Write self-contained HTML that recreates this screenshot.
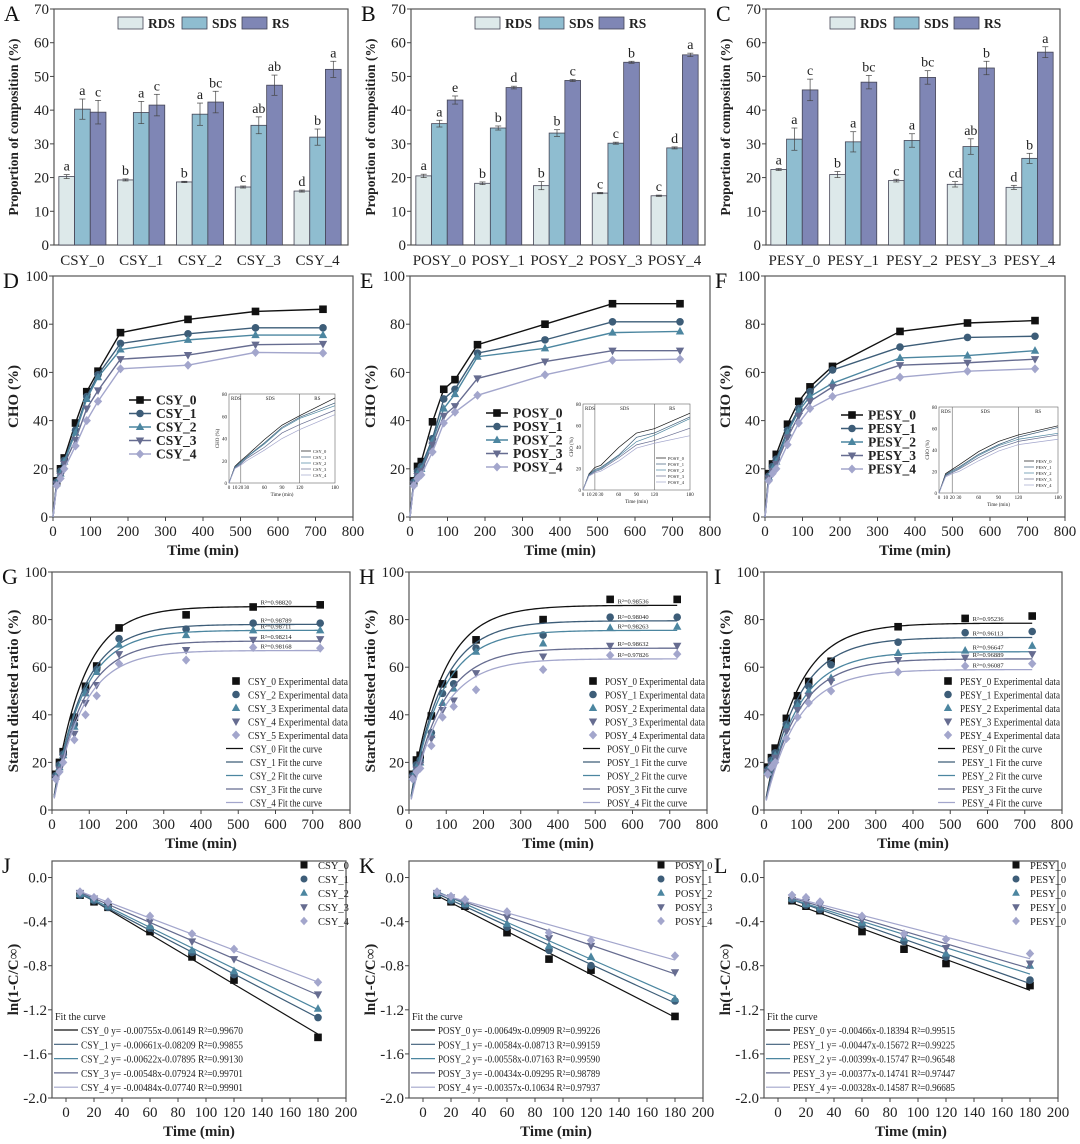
<!DOCTYPE html>
<html><head><meta charset="utf-8"><style>
html,body{margin:0;padding:0;background:#fff;}
svg{display:block;font-family:"Liberation Serif","DejaVu Serif",serif;}
svg text{font-family:"Liberation Serif","DejaVu Serif",serif;}
</style></head><body>
<svg id="fig" width="1080" height="1144" viewBox="0 0 1080 1144" xmlns="http://www.w3.org/2000/svg"></svg>
<script>
// ---------- DATA ----------
const barGroupsA = ["CSY_0","CSY_1","CSY_2","CSY_3","CSY_4"];
const barGroupsB = ["POSY_0","POSY_1","POSY_2","POSY_3","POSY_4"];
const barGroupsC = ["PESY_0","PESY_1","PESY_2","PESY_3","PESY_4"];
const rdsA = [20.3,19.3,18.7,17.2,16.0];
const sdsA = [40.3,39.3,38.8,35.5,32.0];
const rsA  = [39.4,41.5,42.4,47.4,52.1];
const rdsErrA=[0.6,0.3,0.2,0.3,0.3], sdsErrA=[3,3.3,3.3,2.5,2.4], rsErrA=[3.5,3.2,3.2,3,2.4];
const rdsLetA=["a","b","b","c","d"], sdsLetA=["a","a","a","ab","b"], rsLetA=["c","c","bc","ab","a"];
const rdsB = [20.5,18.3,17.6,15.4,14.6];
const sdsB = [36.0,34.7,33.2,30.2,28.8];
const rsB  = [43.0,46.7,48.8,54.2,56.4];
const rdsErrB=[0.5,0.4,1.2,0.2,0.2], sdsErrB=[1,0.6,1,0.3,0.3], rsErrB=[1.2,0.4,0.3,0.3,0.5];
const rdsLetB=["a","b","b","c","c"], sdsLetB=["a","b","b","c","d"], rsLetB=["e","d","c","b","a"];
const rdsC = [22.4,20.9,19.1,18.0,17.1];
const sdsC = [31.4,30.6,31.0,29.2,25.7];
const rsC  = [46.0,48.3,49.7,52.5,57.2];
const rdsErrC=[0.3,0.9,0.4,0.8,0.6], sdsErrC=[3.3,3,2,2.3,1.5], rsErrC=[3.2,2,2,2,1.6];
const rdsLetC=["a","b","c","cd","d"], sdsLetC=["a","a","a","ab","b"], rsLetC=["c","bc","bc","b","a"];
const barTicks=[0,10,20,30,40,50,60,70];

const times=[0,10,20,30,60,90,120,180,360,540,720];
const csy0=[0,15,20,24.5,39,52,60.5,76.5,82,85.3,86.2];
const csy1=[0,14.5,19,23.5,36,50,59,72,76,78.5,78.5];
const csy2=[0,14,18,23,35,49,58,69.5,73.5,75.5,75.5];
const csy3=[0,13.5,17,22,32,45,52.5,65.5,67.2,71.5,71.8];
const csy4=[0,13,16,20,29.5,40,48,61.5,63,68.3,68];
const posy0=[0,15,21,23,39.5,53,57,71.5,80,88.5,88.5];
const posy1=[0,14.5,19,21,32.5,49,53,68,73.5,81,81];
const posy2=[0,14,18,20,31.5,45,51,66.5,70,76.5,77];
const posy3=[0,13.5,17,19,30,42,46,57.5,64.5,69,69];
const posy4=[0,13,16,17.5,27,39,43.5,50.5,59,65,65.5];
const pesy0=[0,18,22,26,38.5,48,54,62.5,77,80.5,81.5];
const pesy1=[0,17,21,24,36,45,52,61,70.5,74.5,75];
const pesy2=[0,16.5,20,23,35,44,50,55.5,66,67,69];
const pesy3=[0,16,19,22,33,42,48,54,63,64,65.5];
const pesy4=[0,15,18,20,30,39,45,50,58,60.5,61.5];
const choTicks=[0,20,40,60,80,100];
const timeTicks=[0,100,200,300,400,500,600,700,800];

const cinfG=[85.5,78,75.5,71,67], kG=[0.0125,0.0125,0.0125,0.0125,0.0125];
const cinfH=[86,79.5,75.5,68,63.5], kH=[0.012,0.012,0.012,0.012,0.012];
const cinfI=[78.5,72.5,66.5,63.5,59], kI=[0.0115,0.0115,0.0115,0.0115,0.0115];
const r2G=["0.98820","0.98789","0.98711","0.98214","0.98168"];
const r2H=["0.98536","0.98040","0.98263","0.98632","0.97826"];
const r2I=["0.95236","0.96113","0.96647","0.96889","0.96087"];

const lnTimes=[10,20,30,60,90,120,180];
const j0=[-0.16,-0.22,-0.27,-0.49,-0.72,-0.93,-1.45];
const j1=[-0.16,-0.21,-0.27,-0.46,-0.68,-0.88,-1.27];
const j2=[-0.15,-0.20,-0.26,-0.44,-0.66,-0.85,-1.19];
const j3=[-0.14,-0.19,-0.24,-0.40,-0.58,-0.74,-1.06];
const j4=[-0.13,-0.18,-0.22,-0.35,-0.51,-0.65,-0.95];
const k0=[-0.16,-0.22,-0.26,-0.50,-0.74,-0.84,-1.26];
const k1=[-0.15,-0.21,-0.25,-0.45,-0.66,-0.80,-1.12];
const k2=[-0.15,-0.20,-0.24,-0.42,-0.62,-0.72,-1.10];
const k3=[-0.14,-0.18,-0.22,-0.36,-0.55,-0.62,-0.86];
const k4=[-0.13,-0.17,-0.20,-0.31,-0.50,-0.57,-0.71];
const l0=[-0.21,-0.26,-0.30,-0.49,-0.65,-0.78,-0.98];
const l1=[-0.20,-0.25,-0.29,-0.43,-0.58,-0.72,-0.93];
const l2=[-0.19,-0.24,-0.27,-0.41,-0.55,-0.69,-0.80];
const l3=[-0.18,-0.22,-0.25,-0.38,-0.53,-0.64,-0.78];
const l4=[-0.16,-0.18,-0.22,-0.35,-0.51,-0.56,-0.69];
const slopeJ=[-0.00755,-0.00661,-0.00622,-0.00548,-0.00484], interJ=[-0.06149,-0.08209,-0.07895,-0.07924,-0.07740];
const slopeK=[-0.00649,-0.00584,-0.00558,-0.00434,-0.00357], interK=[-0.09909,-0.08713,-0.07163,-0.09295,-0.10634];
const slopeL=[-0.00466,-0.00447,-0.00399,-0.00377,-0.00328], interL=[-0.18394,-0.15672,-0.15747,-0.14741,-0.14587];
const eqJ=["CSY_0 y= -0.00755x-0.06149","CSY_1 y= -0.00661x-0.08209","CSY_2 y= -0.00622x-0.07895","CSY_3 y= -0.00548x-0.07924","CSY_4 y= -0.00484x-0.07740"];
const r2J=["0.99670","0.99855","0.99130","0.99701","0.99901"];
const eqK=["POSY_0 y= -0.00649x-0.09909","POSY_1 y= -0.00584x-0.08713","POSY_2 y= -0.00558x-0.07163","POSY_3 y= -0.00434x-0.09295","POSY_4 y= -0.00357x-0.10634"];
const r2K=["0.99226","0.99159","0.99590","0.98789","0.97937"];
const eqL=["PESY_0 y= -0.00466x-0.18394","PESY_1 y= -0.00447x-0.15672","PESY_2 y= -0.00399x-0.15747","PESY_3 y= -0.00377x-0.14741","PESY_4 y= -0.00328x-0.14587"];
const r2L=["0.99515","0.99225","0.96548","0.97447","0.96685"];
const lnTicks=[0.0,-0.4,-0.8,-1.2,-1.6,-2.0];
const lnTickLabels=["0.0","-0.4","-0.8","-1.2","-1.6","-2.0"];
const lnXTicks=[0,20,40,60,80,100,120,140,160,180,200];

// ---------- DRAW HELPERS ----------
const NS="http://www.w3.org/2000/svg";
const svg=document.getElementById('fig');
const COLS=["#111111","#3d5d78","#4c86a0","#666c90","#a3a6cc"];
const MARK=["square","circle","up","down","diamond"];
function mk(tag,attrs,name,parent){
  const el=document.createElementNS(NS,tag);
  for(const k in attrs) el.setAttribute(k,attrs[k]);
  
  
  (parent||svg).appendChild(el);
  return el;
}
function txt(x,y,s,name,opt){
  opt=opt||{};
  const t=mk('text',{x:x,y:y,'font-size':opt.fs||15,'text-anchor':opt.anchor||'middle','font-weight':opt.bold?'bold':'normal',fill:opt.fill||'#222'},name,opt.parent);
  if(opt.rot) t.setAttribute('transform','rotate(-90 '+x+' '+y+')');
  if(opt.len){ t.setAttribute('textLength',opt.len); t.setAttribute('lengthAdjust','spacingAndGlyphs'); }
  t.textContent=s; return t;
}
function marker(x,y,type,col,s,name,parent){
  s=s||4;
  if(type==='square') return mk('rect',{x:x-s,y:y-s,width:2*s,height:2*s,fill:col},name,parent);
  if(type==='circle') return mk('circle',{cx:x,cy:y,r:s,fill:col},name,parent);
  if(type==='up') return mk('polygon',{points:`${x},${y-s*1.2} ${x-s*1.1},${y+s*0.8} ${x+s*1.1},${y+s*0.8}`,fill:col},name,parent);
  if(type==='down') return mk('polygon',{points:`${x},${y+s*1.2} ${x-s*1.1},${y-s*0.8} ${x+s*1.1},${y-s*0.8}`,fill:col},name,parent);
  return mk('polygon',{points:`${x},${y-s*1.2} ${x-s*1.1},${y} ${x},${y+s*1.2} ${x+s*1.1},${y}`,fill:col},name,parent);
}
function axes(p){
  p.X=v=>p.l+(v-p.xmin)/(p.xmax-p.xmin)*(p.r-p.l);
  p.Y=v=>p.b-(v-p.ymin)/(p.ymax-p.ymin)*(p.b-p.t);
  mk('rect',{x:p.l,y:p.t,width:p.r-p.l,height:p.b-p.t,fill:'none',stroke:'#555','stroke-width':1.2},'plot-frame-'+p.letter);
  p.yticks.forEach((v,i)=>{
    const y=p.Y(v);
    mk('line',{x1:p.l-4,y1:y,x2:p.l,y2:y,stroke:'#444'},'y-tick');
    txt(p.l-5,y+5,p.ylabels?p.ylabels[i]:String(v),'y-tick-label',{anchor:'end',fs:15});
  });
  if(p.xticks){
    p.xticks.forEach(v=>{
      const x=p.X(v);
      mk('line',{x1:x,y1:p.b,x2:x,y2:p.b+4,stroke:'#444'},'x-tick');
      txt(x,p.b+19,String(v),'x-tick-label',{fs:15});
    });
  }
  if(p.xtitle) txt((p.l+p.r)/2,p.b+38,p.xtitle,'x-axis-title',{bold:true,fs:15});
  txt(p.ytx,(p.t+p.b)/2,p.ytitle,'y-axis-title',{bold:true,fs:p.yfs||15,rot:true});
  txt(p.l-50,p.t+12,p.letter,'panel-label-'+p.letter,{anchor:'start',fs:22,fill:'#111'});
  return p;
}
const colL=[54,411,766];

// ---------- BAR PANELS ----------
function barPanel(ci,letter,groups,series,errs,lets){
  const p=axes({l:colL[ci],t:9,r:colL[ci]+294,b:245,xmin:0,xmax:5,ymin:0,ymax:70,yticks:barTicks,ytitle:'Proportion of composition (%)',ytx:colL[ci]-36,yfs:13.5,letter:letter});
  const fills=["#dde9ea","#8fbdd0","#7f86b5"];
  const bw=15.7;
  groups.forEach((g,i)=>{
    const c=p.X(i+0.5)-1;
    txt(c,265,g,'x-category-label',{fs:15});
    series.forEach((s,j)=>{
      const x=c-bw*1.5+j*bw, y=p.Y(s[i]);
      mk('rect',{x:x,y:y,width:bw,height:p.b-y,fill:fills[j],stroke:'#445',"stroke-width":0.8},'bar-'+g+'-'+["rds","sds","rs"][j]);
      const e=errs[j][i], yt=p.Y(s[i]+e), yb=p.Y(s[i]-e), xc=x+bw/2;
      mk('line',{x1:xc,y1:yt,x2:xc,y2:yb,stroke:'#444','stroke-width':0.7},'error-bar');
      mk('line',{x1:xc-3,y1:yt,x2:xc+3,y2:yt,stroke:'#444','stroke-width':0.7},'error-cap');
      mk('line',{x1:xc-3,y1:yb,x2:xc+3,y2:yb,stroke:'#444','stroke-width':0.7},'error-cap');
      txt(xc,yt-4,lets[j][i],'significance-letter',{fs:14});
    });
  });
  const lx=[p.l+64,p.l+128,p.l+188], nm=["RDS","SDS","RS"];
  nm.forEach((n,j)=>{
    mk('rect',{x:lx[j],y:17,width:25,height:12,fill:fills[j],stroke:'#445','stroke-width':0.8},'legend-swatch-'+n);
    txt(lx[j]+30,28,n,'legend-label-'+n,{anchor:'start',bold:true,fs:13.5});
  });
}
barPanel(0,'A',barGroupsA,[rdsA,sdsA,rsA],[rdsErrA,sdsErrA,rsErrA],[rdsLetA,sdsLetA,rsLetA]);
barPanel(1,'B',barGroupsB,[rdsB,sdsB,rsB],[rdsErrB,sdsErrB,rsErrB],[rdsLetB,sdsLetB,rsLetB]);
barPanel(2,'C',barGroupsC,[rdsC,sdsC,rsC],[rdsErrC,sdsErrC,rsErrC],[rdsLetC,sdsLetC,rsLetC]);

// ---------- CHO PANELS ----------
function choPanel(ci,letter,names,data,inset,legY){
  const p=axes({l:colL[ci]-1,t:276,r:colL[ci]+299,b:517,xmin:0,xmax:800,ymin:0,ymax:100,xticks:timeTicks,yticks:choTicks,xtitle:'Time (min)',ytitle:'CHO (%)',ytx:colL[ci]-36,letter:letter});
  data.forEach((d,s)=>{
    mk('polyline',{points:times.map((t,i)=>p.X(t)+','+p.Y(d[i])).join(' '),fill:'none',stroke:COLS[s],'stroke-width':1.4},'line-'+names[s]);
    times.forEach((t,i)=>{ if(i>0) marker(p.X(t),p.Y(d[i]),MARK[s],COLS[s],3.8,'point-'+names[s]); });
  });
  names.forEach((n,s)=>{
    const y=legY+s*13.5, x=colL[ci]+75;
    mk('line',{x1:x,y1:y,x2:x+22,y2:y,stroke:COLS[s],'stroke-width':1.4},'legend-line-'+n);
    marker(x+11,y,MARK[s],COLS[s],3.8,'legend-marker-'+n);
    txt(x+27,y+4.5,n,'legend-label-'+n,{anchor:'start',bold:true,fs:13.5});
  });
  const q={l:inset[0],t:inset[1],r:inset[2],b:inset[3]};
  const X=v=>q.l+v/180*(q.r-q.l), Y=v=>q.b-v/80*(q.b-q.t);
  mk('rect',{x:q.l,y:q.t,width:q.r-q.l,height:q.b-q.t,fill:'#fff',stroke:'#666','stroke-width':0.6},'inset-frame');
  [20,120].forEach(v=>mk('line',{x1:X(v),y1:q.t,x2:X(v),y2:q.b,stroke:'#666','stroke-width':0.6},'inset-phase-divider'));
  txt(q.l+2,q.t+6,'RDS','inset-phase-label',{anchor:'start',fs:5});
  txt(X(70),q.t+6,'SDS','inset-phase-label',{fs:5});
  txt(X(150),q.t+6,'RS','inset-phase-label',{fs:5});
  [0,20,40,60,80].forEach(v=>txt(q.l-2,Y(v)+2,String(v),'inset-y-tick-label',{anchor:'end',fs:5}));
  [0,10,20,30,60,90,120,180].forEach((v,i)=>txt(X(v),q.b+6,['0','10','20','30','60','90','120','180'][i],'inset-x-tick-label',{fs:5}));
  txt((q.l+q.r)/2,q.b+13,'Time (min)','inset-x-title',{fs:5});
  txt(q.l-10,(q.t+q.b)/2,'CHO (%)','inset-y-title',{fs:5,rot:true});
  data.forEach((d,s)=>{
    const pts=times.filter(t=>t<=180).map((t,i)=>X(t)+','+Y(d[i])).join(' ');
    mk('polyline',{points:pts,fill:'none',stroke:COLS[s],'stroke-width':0.7},'inset-line-'+names[s]);
  });
  names.forEach((n,s)=>{
    const y=q.b-32+s*6;
    mk('line',{x1:q.r-34,y1:y,x2:q.r-24,y2:y,stroke:COLS[s],'stroke-width':0.7},'inset-legend-line');
    txt(q.r-22,y+2,n,'inset-legend-label',{anchor:'start',fs:4.5});
  });
}
choPanel(0,'D',["CSY_0","CSY_1","CSY_2","CSY_3","CSY_4"],[csy0,csy1,csy2,csy3,csy4],[229,394,335,483],400);
choPanel(1,'E',["POSY_0","POSY_1","POSY_2","POSY_3","POSY_4"],[posy0,posy1,posy2,posy3,posy4],[583,404,690,490],413);
choPanel(2,'F',["PESY_0","PESY_1","PESY_2","PESY_3","PESY_4"],[pesy0,pesy1,pesy2,pesy3,pesy4],[939,407,1058,493],415);

// ---------- FIT PANELS ----------
function fitPanel(ci,letter,pre,expNames,data,cinf,k,r2){
  const p=axes({l:colL[ci]-2,t:572,r:colL[ci]+296,b:810,xmin:0,xmax:800,ymin:0,ymax:100,xticks:timeTicks,yticks:choTicks,xtitle:'Time (min)',ytitle:'Starch didested ratio (%)',ytx:colL[ci]-36,letter:letter});
  data.forEach((d,s)=>{
    const pts=[];
    for(let t=6;t<=720;t+=6) pts.push(p.X(t)+','+p.Y(cinf[s]*(1-Math.exp(-k[s]*t))));
    mk('polyline',{points:pts.join(' '),fill:'none',stroke:COLS[s],'stroke-width':1.3},'fit-curve-'+pre+s);
    times.forEach((t,i)=>{ if(i>0) marker(p.X(t),p.Y(d[i]),MARK[s],COLS[s],3.8,'point-'+pre+s); });
    txt(p.X(560),p.Y(cinf[s])-2,'R²='+r2[s],'r-squared-label',{anchor:'start',fs:6.5});
  });
  const mx=p.l+184, y0=681;
  expNames.forEach((n,s)=>{
    marker(mx,y0+s*13.5,MARK[s],COLS[s],3.8,'legend-marker');
    txt(mx+12,y0+s*13.5+4,n+' Experimental data','legend-label',{anchor:'start',fs:11,len:100});
  });
  for(let s=0;s<5;s++){
    const y=y0+(s+5)*13.5;
    mk('line',{x1:mx-10,y1:y,x2:mx+7,y2:y,stroke:COLS[s],'stroke-width':1.3},'legend-fit-line');
    txt(mx+14,y+4,pre+s+' Fit the curve','legend-label',{anchor:'start',fs:11,len:pre.length>4?80:72});
  }
}
fitPanel(0,'G','CSY_',["CSY_0","CSY_2","CSY_3","CSY_4","CSY_5"],[csy0,csy1,csy2,csy3,csy4],cinfG,kG,r2G);
fitPanel(1,'H','POSY_',["POSY_0","POSY_1","POSY_2","POSY_3","POSY_4"],[posy0,posy1,posy2,posy3,posy4],cinfH,kH,r2H);
fitPanel(2,'I','PESY_',["PESY_0","PESY_1","PESY_2","PESY_3","PESY_4"],[pesy0,pesy1,pesy2,pesy3,pesy4],cinfI,kI,r2I);

// ---------- LN PANELS ----------
function lnPanel(ci,letter,names,data,slope,inter,eqs,r2){
  const p=axes({l:colL[ci]-2,t:861,r:colL[ci]+292,b:1098,xmin:-10,xmax:200,ymin:-2.0,ymax:0.15,xticks:lnXTicks,yticks:lnTicks,ylabels:lnTickLabels,xtitle:'Time (min)',ytitle:'ln(1-C/C∞)',ytx:colL[ci]-36,letter:letter});
  data.forEach((d,s)=>{
    mk('line',{x1:p.X(10),y1:p.Y(slope[s]*10+inter[s]),x2:p.X(180),y2:p.Y(slope[s]*180+inter[s]),stroke:COLS[s],'stroke-width':1.2},'fit-line-'+names[s]);
    lnTimes.forEach((t,i)=>marker(p.X(t),p.Y(d[i]),MARK[s],COLS[s],3.8,'point-'+names[s]));
  });
  names.forEach((n,s)=>{
    const y=865+s*14;
    marker(p.l+252,y,MARK[s],COLS[s],3.5,'legend-marker-'+n);
    txt(p.l+266,y+4,n,'legend-label-'+n,{anchor:'start',fs:10.5});
  });
  txt(p.l+3,1020,'Fit the curve','fit-legend-title',{anchor:'start',fs:10});
  eqs.forEach((e,s)=>{
    const y=1030+s*14.3;
    mk('line',{x1:p.l+2,y1:y,x2:p.l+26,y2:y,stroke:COLS[s],'stroke-width':1.2},'fit-legend-line');
    txt(p.l+29,y+4,e+'  R²='+r2[s],'fit-legend-equation',{anchor:'start',fs:10,len:162});
  });
}
lnPanel(0,'J',["CSY_0","CSY_1","CSY_2","CSY_3","CSY_4"],[j0,j1,j2,j3,j4],slopeJ,interJ,eqJ,r2J);
lnPanel(1,'K',["POSY_0","POSY_1","POSY_2","POSY_3","POSY_4"],[k0,k1,k2,k3,k4],slopeK,interK,eqK,r2K);
lnPanel(2,'L',["PESY_0","PESY_0","PESY_0","PESY_0","PESY_0"],[l0,l1,l2,l3,l4],slopeL,interL,eqL,r2L);
</script>
</body></html>
